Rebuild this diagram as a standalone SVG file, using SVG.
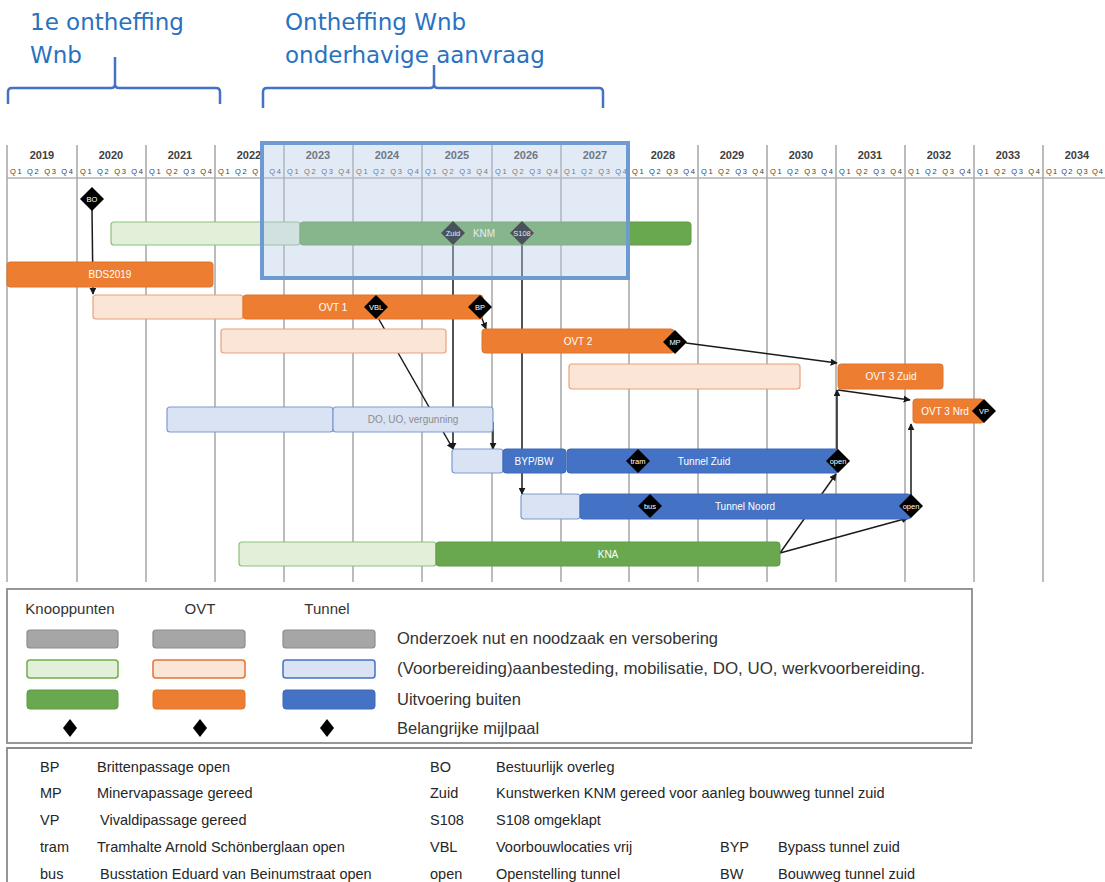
<svg xmlns="http://www.w3.org/2000/svg" xmlns:xlink="http://www.w3.org/1999/xlink" width="1105" height="882" viewBox="0 0 1105 882">
<defs>
<style>
.ttl{font-family:"DejaVu Sans",Verdana,sans-serif;font-size:23px;fill:#2a72c0}
.brace{fill:none;stroke:#4472c4;stroke-width:2.5;stroke-linejoin:round}
.yr{font-family:"Liberation Sans",Arial,sans-serif;font-size:11px;font-weight:bold;fill:#404040;text-anchor:middle}
.q{font-family:"Liberation Sans",Arial,sans-serif;font-size:7.5px;fill:#404040}
.grid{stroke:#a6a6a6;stroke-width:1.5}
.hline{stroke:#8c8c8c;stroke-width:1.2}
.lg{fill:#e2f0d9;stroke:#8cc07a;stroke-width:1.2}
.g{fill:#6aa84f;stroke:#5e9a45;stroke-width:1}
.lo{fill:#fbe5d6;stroke:#e8a27a;stroke-width:1.2}
.o{fill:#ed7d31;stroke:#e0742a;stroke-width:1}
.lb{fill:#dae3f3;stroke:#7e9bd0;stroke-width:1.2}
.b{fill:#4472c4;stroke:#3c68b8;stroke-width:1}
.gr{fill:#a6a6a6;stroke:#8c8c8c;stroke-width:1.2}
.bl{font-family:"Liberation Sans",Arial,sans-serif;font-size:10px;fill:#ffffff;text-anchor:middle}
.bg{font-family:"Liberation Sans",Arial,sans-serif;font-size:10px;fill:#8c8c8c;text-anchor:middle}
.dl{font-family:"Liberation Sans",Arial,sans-serif;font-size:7.5px;fill:#ffffff;text-anchor:middle}
.con{fill:none;stroke:#1a1a1a;stroke-width:1.5}
.lh{font-family:"Liberation Sans",Arial,sans-serif;font-size:15px;fill:#333333;text-anchor:middle}
.lt{font-family:"Liberation Sans",Arial,sans-serif;font-size:16.5px;fill:#333333}
.tt{font-family:"Liberation Sans",Arial,sans-serif;font-size:14.5px;fill:#262626}
.frame{fill:none;stroke:#8c8c8c;stroke-width:1.8}
</style>
<path id="dia" d="M0,-12 L12,0 L0,12 L-12,0 Z" fill="#000000"/>
<path id="ldia" d="M0,-9 L7,0 L0,9 L-7,0 Z" fill="#000000"/>
<marker id="ah" viewBox="0 0 10 10" refX="9" refY="5" markerWidth="7" markerHeight="7" markerUnits="userSpaceOnUse" orient="auto"><path d="M0,0 L10,5 L0,10 Z" fill="#1a1a1a"/></marker>
</defs>
<rect width="1105" height="882" fill="#ffffff"/>

<g id="title-1">
<text class="ttl" x="30" y="30">1e ontheffing</text>
<text class="ttl" x="30" y="63">Wnb</text>
<path class="brace" d="M8,104 L8,92 Q8,88 12,88 L111,88 Q115,88 115,84 L115,57 M115,84 Q115,88 119,88 L216,88 Q220,88 220,92 L220,104"/>
</g>
<g id="title-2">
<text class="ttl" x="285" y="30">Ontheffing Wnb</text>
<text class="ttl" x="285" y="63">onderhavige aanvraag</text>
<path class="brace" d="M263,108 L263,92 Q263,88 267,88 L430,88 Q434,88 434,84 L434,65 M434,84 Q434,88 438,88 L599,88 Q603,88 603,92 L603,108"/>
</g>

<g id="timeline">
<line class="hline" x1="7" y1="178" x2="1105" y2="178"/>
<line class="grid" x1="7" y1="145" x2="7" y2="582"/>
<line class="grid" x1="77" y1="145" x2="77" y2="582"/>
<line class="grid" x1="146" y1="145" x2="146" y2="582"/>
<line class="grid" x1="215" y1="145" x2="215" y2="582"/>
<line class="grid" x1="284" y1="145" x2="284" y2="582"/>
<line class="grid" x1="353" y1="145" x2="353" y2="582"/>
<line class="grid" x1="422" y1="145" x2="422" y2="582"/>
<line class="grid" x1="492" y1="145" x2="492" y2="582"/>
<line class="grid" x1="561" y1="145" x2="561" y2="582"/>
<line class="grid" x1="629" y1="145" x2="629" y2="582"/>
<line class="grid" x1="698" y1="145" x2="698" y2="582"/>
<line class="grid" x1="767" y1="145" x2="767" y2="582"/>
<line class="grid" x1="836" y1="145" x2="836" y2="582"/>
<line class="grid" x1="905" y1="145" x2="905" y2="582"/>
<line class="grid" x1="974" y1="145" x2="974" y2="582"/>
<line class="grid" x1="1043" y1="145" x2="1043" y2="582"/>
<text class="yr" x="42" y="159">2019</text>
<text class="yr" x="111" y="159">2020</text>
<text class="yr" x="180" y="159">2021</text>
<text class="yr" x="249" y="159">2022</text>
<text class="yr" x="318" y="159">2023</text>
<text class="yr" x="387" y="159">2024</text>
<text class="yr" x="457" y="159">2025</text>
<text class="yr" x="526" y="159">2026</text>
<text class="yr" x="595" y="159">2027</text>
<text class="yr" x="663" y="159">2028</text>
<text class="yr" x="732" y="159">2029</text>
<text class="yr" x="801" y="159">2030</text>
<text class="yr" x="870" y="159">2031</text>
<text class="yr" x="939" y="159">2032</text>
<text class="yr" x="1008" y="159">2033</text>
<text class="yr" x="1077" y="159">2034</text>
<text class="q" x="10" y="174" textLength="63" lengthAdjust="spacing">Q1 Q2 Q3 Q4</text>
<text class="q" x="80" y="174" textLength="63" lengthAdjust="spacing">Q1 Q2 Q3 Q4</text>
<text class="q" x="149" y="174" textLength="63" lengthAdjust="spacing">Q1 Q2 Q3 Q4</text>
<text class="q" x="218" y="174" textLength="63" lengthAdjust="spacing">Q1 Q2 Q3 Q4</text>
<text class="q" x="287" y="174" textLength="63" lengthAdjust="spacing">Q1 Q2 Q3 Q4</text>
<text class="q" x="356" y="174" textLength="63" lengthAdjust="spacing">Q1 Q2 Q3 Q4</text>
<text class="q" x="425" y="174" textLength="63" lengthAdjust="spacing">Q1 Q2 Q3 Q4</text>
<text class="q" x="495" y="174" textLength="63" lengthAdjust="spacing">Q1 Q2 Q3 Q4</text>
<text class="q" x="564" y="174" textLength="63" lengthAdjust="spacing">Q1 Q2 Q3 Q4</text>
<text class="q" x="632" y="174" textLength="63" lengthAdjust="spacing">Q1 Q2 Q3 Q4</text>
<text class="q" x="701" y="174" textLength="63" lengthAdjust="spacing">Q1 Q2 Q3 Q4</text>
<text class="q" x="770" y="174" textLength="63" lengthAdjust="spacing">Q1 Q2 Q3 Q4</text>
<text class="q" x="839" y="174" textLength="63" lengthAdjust="spacing">Q1 Q2 Q3 Q4</text>
<text class="q" x="908" y="174" textLength="63" lengthAdjust="spacing">Q1 Q2 Q3 Q4</text>
<text class="q" x="977" y="174" textLength="63" lengthAdjust="spacing">Q1 Q2 Q3 Q4</text>
<text class="q" x="1046" y="174" textLength="57" lengthAdjust="spacing">Q1 Q2 Q3 Q4</text>
</g>

<g id="connectors">
<line class="con" x1="92" y1="210" x2="93" y2="294" marker-end="url(#ah)"/>
<line class="con" x1="453" y1="244" x2="453" y2="449" marker-end="url(#ah)"/>
<line class="con" x1="522" y1="244" x2="522" y2="494" marker-end="url(#ah)"/>
<line class="con" x1="377" y1="316" x2="453" y2="449" marker-end="url(#ah)"/>
<line class="con" x1="493" y1="422" x2="493" y2="449" marker-end="url(#ah)"/>
<line class="con" x1="481" y1="316" x2="486" y2="329" marker-end="url(#ah)"/>
<line class="con" x1="686" y1="343" x2="837" y2="363" marker-end="url(#ah)"/>
<line class="con" x1="838" y1="390" x2="910" y2="400" marker-end="url(#ah)"/>
<line class="con" x1="837" y1="452" x2="837" y2="390" marker-end="url(#ah)"/>
<line class="con" x1="911" y1="497" x2="911" y2="424" marker-end="url(#ah)"/>
<line class="con" x1="780" y1="553" x2="836" y2="474" marker-end="url(#ah)"/>
<line class="con" x1="780" y1="553" x2="908" y2="518" marker-end="url(#ah)"/>
</g>

<g id="knm">
<rect class="lg" x="111" y="222" width="189" height="23" rx="3"/>
<rect class="g" x="300" y="222" width="391" height="23" rx="3"/>
<text class="bl" x="484" y="237">KNM</text>
</g>
<g id="bds2019">
<rect class="o" x="7" y="262" width="206" height="25" rx="3"/>
<text class="bl" x="110" y="278">BDS2019</text>
</g>
<g id="ovt1">
<rect class="lo" x="93" y="295" width="150" height="24" rx="3"/>
<rect class="o" x="243" y="295" width="240" height="24" rx="3"/>
<text class="bl" x="333" y="311">OVT 1</text>
</g>
<g id="ovt2">
<rect class="lo" x="221" y="329" width="225" height="24" rx="3"/>
<rect class="o" x="482" y="329" width="192" height="24" rx="3"/>
<text class="bl" x="578" y="345">OVT 2</text>
</g>
<g id="ovt3-zuid">
<rect class="lo" x="569" y="364" width="231" height="25" rx="3"/>
<rect class="o" x="838" y="364" width="105" height="25" rx="3"/>
<text class="bl" x="891" y="380">OVT 3 Zuid</text>
</g>
<g id="ovt3-nrd">
<rect class="o" x="913" y="399" width="71" height="24" rx="3"/>
<text class="bl" x="945" y="415">OVT 3 Nrd</text>
</g>
<g id="do-uo">
<rect class="lb" x="167" y="407" width="166" height="25" rx="3"/>
<rect class="lb" x="333" y="407" width="160" height="25" rx="3"/>
<text class="bg" x="413" y="423">DO, UO, vergunning</text>
</g>
<g id="byp-bw">
<rect class="lb" x="452" y="449" width="51" height="24" rx="3"/>
<rect class="b" x="503" y="449" width="63" height="24" rx="3"/>
<text class="bl" x="534" y="465">BYP/BW</text>
</g>
<g id="tunnel-zuid">
<rect class="b" x="567" y="449" width="271" height="24" rx="3"/>
<text class="bl" x="704" y="465">Tunnel Zuid</text>
</g>
<g id="tunnel-noord">
<rect class="lb" x="521" y="494" width="59" height="25" rx="3"/>
<rect class="b" x="580" y="494" width="331" height="25" rx="3"/>
<text class="bl" x="745" y="510">Tunnel Noord</text>
</g>
<g id="kna">
<rect class="lg" x="239" y="542" width="197" height="24" rx="3"/>
<rect class="g" x="436" y="542" width="344" height="24" rx="3"/>
<text class="bl" x="608" y="558">KNA</text>
</g>

<g id="milestones">
<g id="ms-bo"><use xlink:href="#dia" x="92" y="199"/><text class="dl" x="92" y="202">BO</text></g>
<g id="ms-zuid"><use xlink:href="#dia" x="453" y="233"/><text class="dl" x="453" y="236">Zuid</text></g>
<g id="ms-s108"><use xlink:href="#dia" x="522" y="233"/><text class="dl" x="522" y="236">S108</text></g>
<g id="ms-vbl"><use xlink:href="#dia" x="376" y="307"/><text class="dl" x="376" y="310">VBL</text></g>
<g id="ms-bp"><use xlink:href="#dia" x="480" y="307"/><text class="dl" x="480" y="310">BP</text></g>
<g id="ms-mp"><use xlink:href="#dia" x="675" y="342"/><text class="dl" x="675" y="345">MP</text></g>
<g id="ms-vp"><use xlink:href="#dia" x="984" y="411"/><text class="dl" x="984" y="414">VP</text></g>
<g id="ms-tram"><use xlink:href="#dia" x="638" y="461"/><text class="dl" x="638" y="464">tram</text></g>
<g id="ms-open-zuid"><use xlink:href="#dia" x="838" y="461"/><text class="dl" x="838" y="464">open</text></g>
<g id="ms-bus"><use xlink:href="#dia" x="650" y="506"/><text class="dl" x="650" y="509">bus</text></g>
<g id="ms-open-noord"><use xlink:href="#dia" x="911" y="506"/><text class="dl" x="911" y="509">open</text></g>
</g>

<g id="highlight">
<rect x="262" y="143" width="366" height="135" fill="#b7cbe8" fill-opacity="0.4" stroke="#6e9ad2" stroke-width="4"/>
</g>

<g id="legend">
<rect class="frame" x="7" y="589" width="965" height="154"/>
<text class="lh" x="70" y="614">Knooppunten</text>
<text class="lh" x="200" y="614">OVT</text>
<text class="lh" x="327" y="614">Tunnel</text>
<rect class="gr" x="27" y="630" width="91" height="18" rx="3"/>
<rect class="gr" x="153" y="630" width="92" height="18" rx="3"/>
<rect class="gr" x="283" y="630" width="92" height="18" rx="3"/>
<rect x="27" y="660" width="91" height="18" rx="3" fill="#e2f0d9" stroke="#70ad47" stroke-width="1.5"/>
<rect x="153" y="660" width="92" height="18" rx="3" fill="#fbe5d6" stroke="#e0743a" stroke-width="1.5"/>
<rect x="283" y="660" width="92" height="18" rx="3" fill="#dae3f3" stroke="#4472c4" stroke-width="1.5"/>
<rect class="g" x="27" y="690" width="91" height="19" rx="3"/>
<rect class="o" x="153" y="690" width="92" height="19" rx="3"/>
<rect class="b" x="283" y="690" width="92" height="19" rx="3"/>
<use xlink:href="#ldia" x="70" y="728"/>
<use xlink:href="#ldia" x="200" y="728"/>
<use xlink:href="#ldia" x="327" y="728"/>
<text class="lt" x="397" y="644">Onderzoek nut en noodzaak en versobering</text>
<text class="lt" x="397" y="674" textLength="528" lengthAdjust="spacingAndGlyphs">(Voorbereiding)aanbesteding, mobilisatie, DO, UO, werkvoorbereiding.</text>
<text class="lt" x="397" y="705">Uitvoering buiten</text>
<text class="lt" x="397" y="734">Belangrijke mijlpaal</text>
</g>

<g id="abbreviations">
<path class="frame" d="M7,882 L7,748 L972,748"/>
<text class="tt" x="40" y="772">BP</text>
<text class="tt" x="97" y="772">Brittenpassage open</text>
<text class="tt" x="40" y="798">MP</text>
<text class="tt" x="97" y="798">Minervapassage gereed</text>
<text class="tt" x="40" y="825">VP</text>
<text class="tt" x="100" y="825">Vivaldipassage gereed</text>
<text class="tt" x="40" y="852">tram</text>
<text class="tt" x="97" y="852">Tramhalte Arnold Schönberglaan open</text>
<text class="tt" x="40" y="879">bus</text>
<text class="tt" x="100" y="879">Busstation Eduard van Beinumstraat open</text>
<text class="tt" x="430" y="772">BO</text>
<text class="tt" x="496" y="772">Bestuurlijk overleg</text>
<text class="tt" x="430" y="798">Zuid</text>
<text class="tt" x="496" y="798">Kunstwerken KNM gereed voor aanleg bouwweg tunnel zuid</text>
<text class="tt" x="430" y="825">S108</text>
<text class="tt" x="496" y="825">S108 omgeklapt</text>
<text class="tt" x="430" y="852">VBL</text>
<text class="tt" x="496" y="852">Voorbouwlocaties vrij</text>
<text class="tt" x="430" y="879">open</text>
<text class="tt" x="496" y="879">Openstelling tunnel</text>
<text class="tt" x="720" y="852">BYP</text>
<text class="tt" x="778" y="852">Bypass tunnel zuid</text>
<text class="tt" x="720" y="879">BW</text>
<text class="tt" x="778" y="879">Bouwweg tunnel zuid</text>
</g>
</svg>
